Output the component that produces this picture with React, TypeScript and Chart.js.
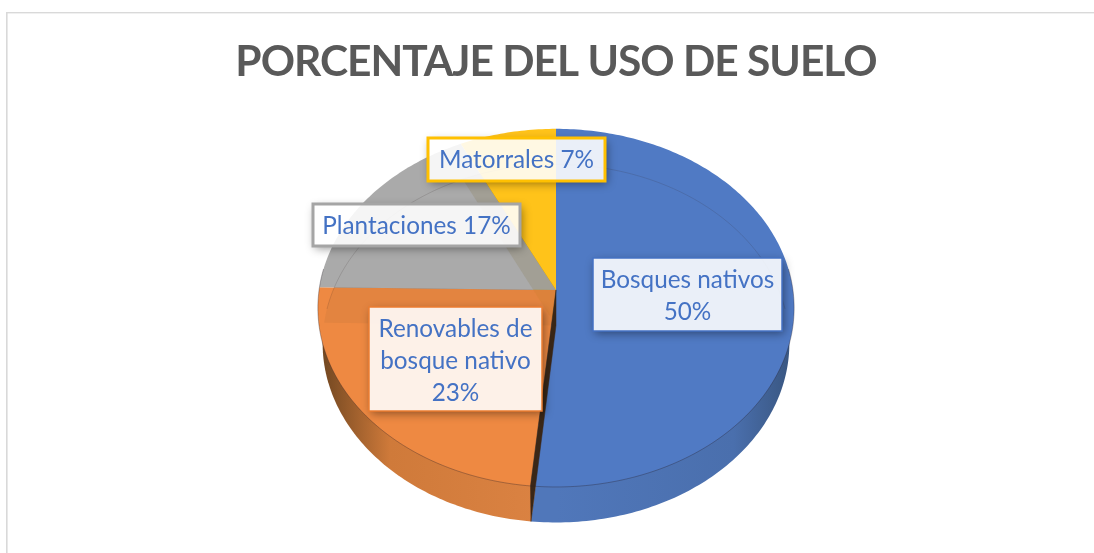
import React, { useEffect, useRef } from "react";
import { Chart, registerables } from "chart.js";

Chart.register(...registerables);

const TITLE = "PORCENTAJE DEL USO DE SUELO";
const categories = ["Bosques nativos", "Renovables de bosque nativo", "Plantaciones", "Matorrales"];
const values = [50, 23, 17, 7];
const labelLines = [
  ["Bosques nativos", "50%"],
  ["Renovables de", "bosque nativo", "23%"],
  ["Plantaciones 17%"],
  ["Matorrales 7%"],
];
const colors = ["#507AC4", "#EE8942", "#AAAAAA", "#FFC31A"];
const borderColors = ["#4472C4", "#ED7D31", "#A5A5A5", "#FFC000"];
const wallStops = [
  ["#5077BA", "#4A6FAD", "#38557F"],
  ["#6E4520", "#CF7A3A", "#DC8343"],
  ["#888888", "#888888", "#888888"],
  ["#C99A10", "#C99A10", "#C99A10"],
];
const wallMiddle = [0.75, 0.3, 0.5, 0.5];
const seeThrough = [null, null, "rgba(60,50,40,0.055)", "rgba(110,90,20,0.14)"];
// label box offsets from the pie centre: [left, top, right, bottom]
const labelBoxes = [
  [37, -32, 226, 41],
  [-187, 17, -14, 121],
  [-243, -86, -36, -44],
  [-128, -152, 49, -109],
];

const PERSPECTIVE = -0.1;
const X_SCALE = 1.247;
const Y_SCALE = 0.933;
const DEPTH = 35.5;
const LOWER_NARROW = 0.98;
const LABEL_FONT = '24.3px Lato, "Open Sans", sans-serif';
const LINE_HEIGHT = 32;

type P = { x: number; y: number };

function project(a: number, r: number, arc: any, dy: number): P {
  const u = r * Math.cos(a);
  const v = r * Math.sin(a);
  const den = 1 + PERSPECTIVE * v;
  const narrow = dy > 0 ? LOWER_NARROW : 1;
  return {
    x: arc.x + (arc.outerRadius * X_SCALE * narrow * u) / den,
    y: arc.y + dy + (arc.outerRadius * Y_SCALE * v) / den,
  };
}

function wedge(ctx: CanvasRenderingContext2D, arc: any, dy: number) {
  const c = project(0, 0, arc, dy);
  ctx.beginPath();
  ctx.moveTo(c.x, c.y);
  const n = Math.max(4, Math.ceil((arc.endAngle - arc.startAngle) * 60));
  for (let i = 0; i <= n; i++) {
    const p = project(arc.startAngle + ((arc.endAngle - arc.startAngle) * i) / n, 1, arc, dy);
    ctx.lineTo(p.x, p.y);
  }
  ctx.closePath();
}

function rim(ctx: CanvasRenderingContext2D, arc: any, dy: number, from: number, to: number) {
  ctx.beginPath();
  const n = 240;
  for (let i = 0; i <= n; i++) {
    const p = project(from + ((to - from) * i) / n, 1, arc, dy);
    if (i === 0) ctx.moveTo(p.x, p.y);
    else ctx.lineTo(p.x, p.y);
  }
}

const pie3d = {
  id: "pie3d",
  beforeDraw(chart: any) {
    const ctx = chart.ctx;
    ctx.save();
    ctx.fillStyle = "#FFFFFF";
    ctx.fillRect(0, 0, chart.width, chart.height);
    ctx.fillStyle = "#D9D9D9";
    ctx.fillRect(6, 12, chart.width, 1.4);
    ctx.fillRect(6, 12, 1.6, chart.height);
    ctx.restore();
    ctx.letterSpacing = "-1px"; // title only
  },
  beforeDatasetDraw(chart: any) {
    const ctx: any = chart.ctx;
    ctx.letterSpacing = "0px";
    const arcs = chart.getDatasetMeta(0).data.map((el: any) => ({
      ...el.getProps(["x", "y", "startAngle", "endAngle", "outerRadius"]),
      color: el.options.backgroundColor,
    }));
    const first = arcs[0];
    ctx.save();

    // lower disc: side walls
    arcs.forEach((arc: any, i: number) => {
      const l = first.x - first.outerRadius * X_SCALE;
      const r = first.x + first.outerRadius * X_SCALE;
      const g = ctx.createLinearGradient(i === 0 ? first.x : l, 0, i === 0 ? r : first.x, 0);
      g.addColorStop(0, wallStops[i][0]);
      g.addColorStop(wallMiddle[i], wallStops[i][1]);
      g.addColorStop(1, wallStops[i][2]);
      ctx.fillStyle = g;
      wedge(ctx, arc, DEPTH);
      ctx.fill();
    });

    // upper face
    arcs.forEach((arc: any) => {
      ctx.fillStyle = arc.color;
      wedge(ctx, arc, 0);
      ctx.fill();
    });

    // lower disc slices showing faintly through the other slices of the upper face
    arcs.forEach((arc: any, i: number) => {
      ctx.save();
      wedge(ctx, arc, 0);
      ctx.clip();
      arcs.forEach((other: any, j: number) => {
        const tint = seeThrough[j];
        if (j === i || !tint) return;
        ctx.fillStyle = tint;
        wedge(ctx, other, DEPTH);
        ctx.fill();
      });
      ctx.restore();
    });

    // cut face between first and second slice
    const a = first.endAngle;
    const p0 = project(a, 0, first, 0);
    const p1 = project(a, 1, first, 0);
    const p2 = project(a, 1, first, DEPTH);
    const p3 = project(a, 0, first, DEPTH);
    ctx.fillStyle = "#3A2717";
    ctx.strokeStyle = "#3A2717";
    ctx.lineWidth = 0.5;
    ctx.beginPath();
    ctx.moveTo(p0.x, p0.y);
    ctx.lineTo(p1.x, p1.y);
    ctx.lineTo(p2.x, p2.y);
    ctx.lineTo(p3.x, p3.y);
    ctx.closePath();
    ctx.fill();
    ctx.stroke();

    // rims
    ctx.lineWidth = 0.8;
    ctx.strokeStyle = "rgba(50,40,40,0.2)";
    rim(ctx, first, DEPTH, -Math.PI * 0.97, -Math.PI * 0.03);
    ctx.stroke();
    ctx.strokeStyle = "rgba(40,30,40,0.42)";
    rim(ctx, first, 0, -0.12, Math.PI + 0.12);
    ctx.stroke();
    ctx.restore();
    return false;
  },
  afterDatasetsDraw(chart: any) {
    const ctx: CanvasRenderingContext2D = chart.ctx;
    const arc = chart.getDatasetMeta(0).data[0].getProps(["x", "y"]);
    ctx.save();
    labelLines.forEach((lines, i) => {
      const [l, t, r, b] = labelBoxes[i];
      const x = arc.x + l;
      const y = arc.y + t;
      const w = r - l;
      const h = b - t;
      ctx.save();
      ctx.beginPath();
      ctx.rect(0, 0, chart.width, chart.height);
      ctx.rect(x, y, w, h);
      ctx.clip("evenodd");
      ctx.shadowColor = "rgba(0,0,0,0.42)";
      ctx.shadowBlur = 9;
      ctx.shadowOffsetX = 2;
      ctx.shadowOffsetY = 3;
      ctx.fillStyle = "#FFFFFF";
      ctx.fillRect(x, y, w, h);
      ctx.restore();
      ctx.fillStyle = "rgba(255,255,255,0.88)";
      ctx.fillRect(x, y, w, h);
      ctx.strokeStyle = borderColors[i];
      ctx.lineWidth = i >= 2 ? 3 : 1.5;
      ctx.strokeRect(x, y, w, h);
      ctx.fillStyle = "#4472C4";
      ctx.font = LABEL_FONT;
      ctx.textAlign = "center";
      ctx.textBaseline = "middle";
      const cy = y + h / 2 - ((lines.length - 1) * LINE_HEIGHT) / 2;
      const nudge = lines.length > 1 ? 2 : 1;
      lines.forEach((line, j) => ctx.fillText(line, x + w / 2, cy + j * LINE_HEIGHT + nudge));
    });
    ctx.restore();
  },
};

export default function App() {
  const ref = useRef<HTMLCanvasElement>(null);
  useEffect(() => {
    if (!ref.current) return;
    const chart = new Chart(ref.current, {
      type: "pie",
      data: {
        labels: categories,
        datasets: [{ data: values, backgroundColor: colors, borderWidth: 0 }],
      },
      options: {
        responsive: false,
        animation: false,
        events: [],
        rotation: 0,
        layout: { padding: { left: 18, right: 0, top: 0, bottom: 73 } },
        plugins: {
          legend: { display: false },
          tooltip: { enabled: false },
          title: {
            display: true,
            text: TITLE,
            color: "#595959",
            font: { family: 'Lato, "Open Sans", sans-serif', size: 42.5, weight: "bold", lineHeight: 1.294 },
            padding: { top: 35, bottom: 10 },
          },
        },
      },
      plugins: [pie3d],
    } as any);
    return () => chart.destroy();
  }, []);
  return (
    <canvas
      ref={ref}
      width={1094}
      height={553}
      style={{ position: "fixed", left: 0, top: 0, width: 1094, height: 553, display: "block" }}
    />
  );
}
